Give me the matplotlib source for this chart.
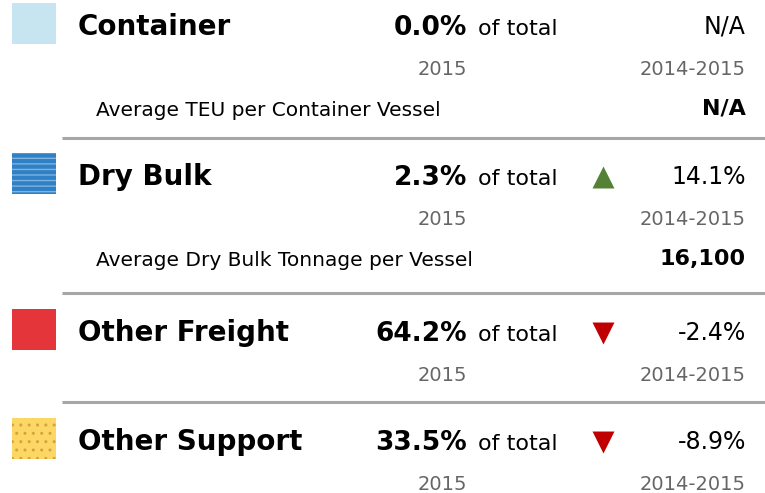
import matplotlib
matplotlib.use("Agg")
import matplotlib.pyplot as plt
from matplotlib.patches import Rectangle

plt.rcParams["font.family"] = ["DejaVu Sans"]
plt.rcParams["hatch.linewidth"] = 1.0

# --- data ---
categories = ["Container", "Dry Bulk", "Other Freight", "Other Support"]
share_2015 = [0.0, 2.3, 64.2, 33.5]
change_14_15 = [None, 14.1, -2.4, -8.9]
sub_labels = ["Average TEU per Container Vessel",
              "Average Dry Bulk Tonnage per Vessel", None, None]
sub_values = ["N/A", "16,100", None, None]
year_label = "2015"
period_label = "2014-2015"

# icon styles per category: (face, hatch colour, hatch)
icon_styles = [("#c6e5f1", None, None),
               ("#2f80c4", "#7fb3e0", "---"),
               ("#e3353a", None, None),
               ("#fdd766", "#d4a43c", "..")]

# layout (pixels from top): header baselines and separator lines
row_y = [35, 185, 341, 450]
sep_y = [137.5, 293, 401.5]

fig = plt.figure(figsize=(7.65, 4.93), dpi=100)
ax = fig.add_axes([0, 0, 1, 1])
ax.set_xlim(0, 765)
ax.set_ylim(493, 0)
ax.axis("off")

grey = "#666666"
for i, cat in enumerate(categories):
    h = row_y[i]
    face, hcol, hatch = icon_styles[i]
    ax.add_patch(Rectangle((12, h - 32.5), 44, 41, facecolor=face,
                           edgecolor=hcol if hcol else face,
                           hatch=hatch, linewidth=0))

    ax.text(78, h, cat, fontsize=20, fontweight="bold", va="baseline")
    ax.text(467, h, f"{share_2015[i]:.1f}%", fontsize=19,
            fontweight="bold", ha="right", va="baseline")
    ax.text(478, h, "of total", fontsize=16, va="baseline")

    ch = change_14_15[i]
    if ch is None:
        ax.text(746, h - 1, "N/A", fontsize=17, ha="right", va="baseline")
    else:
        ax.text(746, h - 1, f"{ch:.1f}%", fontsize=17, ha="right",
                va="baseline")
        up = ch >= 0
        ax.scatter([603], [h - 8], marker="^" if up else "v", s=250,
                   color="#538135" if up else "#c00000", linewidths=0)

    ax.text(467, h + 40, year_label, fontsize=14, color=grey,
            ha="right", va="baseline")
    ax.text(746, h + 40, period_label, fontsize=14, color=grey,
            ha="right", va="baseline")

    if sub_labels[i] is not None:
        ax.text(96, h + 81, sub_labels[i], fontsize=14.5, va="baseline")
        ax.text(746, h + 80, sub_values[i], fontsize=16,
                fontweight="bold", ha="right", va="baseline")

    if i < len(sep_y):
        ax.plot([62, 765], [sep_y[i], sep_y[i]], color="#a6a6a6",
                linewidth=2.2, solid_capstyle="butt")

fig.savefig("out.png", dpi=100)
